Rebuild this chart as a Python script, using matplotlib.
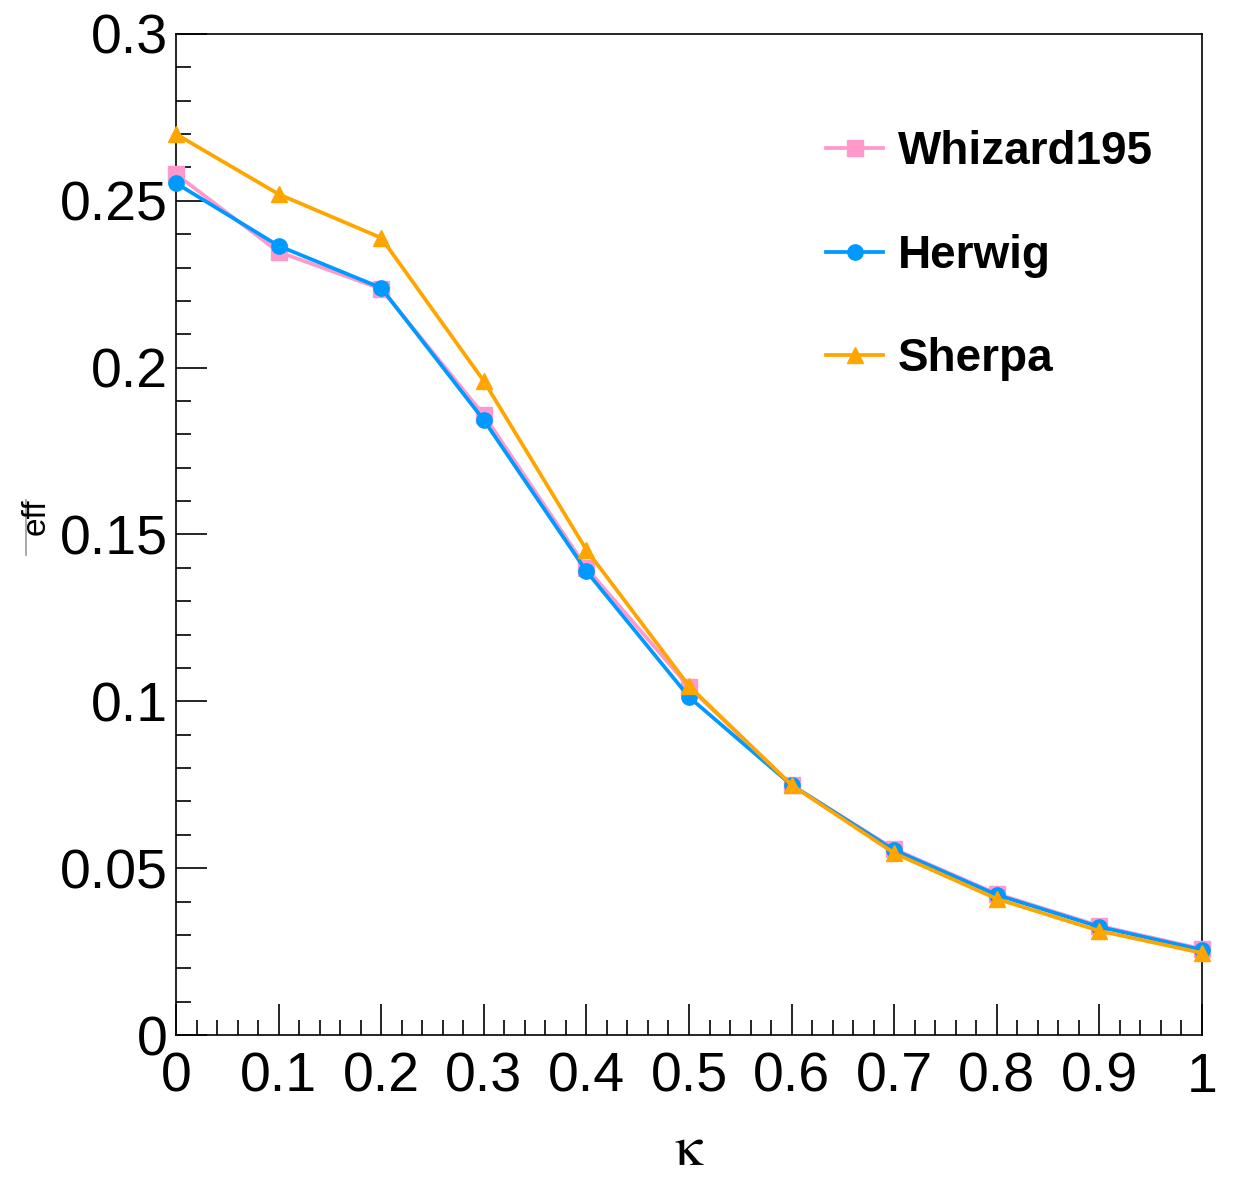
import matplotlib
matplotlib.use("Agg")
import matplotlib.pyplot as plt
from matplotlib.ticker import MultipleLocator, FuncFormatter
from matplotlib.lines import Line2D

kappa = [0.0, 0.1, 0.2, 0.3, 0.4, 0.5, 0.6, 0.7, 0.8, 0.9, 1.0]
whizard = [0.258, 0.2347, 0.2236, 0.1858, 0.140, 0.1043, 0.0749, 0.0557, 0.0423, 0.0327, 0.0258]
herwig = [0.2553, 0.2365, 0.2239, 0.1843, 0.139, 0.1013, 0.0749, 0.0554, 0.0420, 0.0324, 0.0255]
sherpa = [0.270, 0.252, 0.2389, 0.196, 0.1454, 0.1046, 0.0749, 0.0545, 0.0408, 0.0312, 0.0246]
labels = ["Whizard195", "Herwig", "Sherpa"]

plt.rcParams['font.family'] = ['Liberation Sans', 'DejaVu Sans']
plt.rcParams['mathtext.fontset'] = 'stix'

W, H = 1237, 1177
fig = plt.figure(figsize=(W/100, H/100), dpi=100)
ax = fig.add_axes([176/W, 1-1035/H, (1202-176)/W, (1035-34)/H])

ax.plot(kappa, whizard, color='#FF99CC', lw=2.7, marker='s', ms=11, label=labels[0], clip_on=False, zorder=3)
ax.plot(kappa, herwig, color='#0099FF', lw=2.7, marker='o', ms=11, label=labels[1], clip_on=False, zorder=4)
ax.plot(kappa, sherpa, color='#FFA500', lw=2.7, marker='^', ms=11, label=labels[2], clip_on=False, zorder=5)

ax.set_xlim(0, 1)
ax.set_ylim(0, 0.3)
ax.xaxis.set_major_locator(MultipleLocator(0.1))
ax.xaxis.set_minor_locator(MultipleLocator(0.02))
ax.yaxis.set_major_locator(MultipleLocator(0.05))
ax.yaxis.set_minor_locator(MultipleLocator(0.01))

def fmt(v, pos):
    s = f"{v:.2f}".rstrip('0').rstrip('.')
    return s
ax.xaxis.set_major_formatter(FuncFormatter(fmt))
ax.yaxis.set_major_formatter(FuncFormatter(fmt))

ax.tick_params(which='both', direction='in', top=False, right=False, width=1.2, colors='black')
ax.tick_params(which='major', length=22)
ax.tick_params(which='minor', length=11)
ax.tick_params(axis='x', which='major', labelsize=40, pad=12)
ax.tick_params(axis='y', which='major', labelsize=40, pad=6)
for lab in ax.get_xticklabels() + ax.get_yticklabels():
    lab.set_fontfamily('Liberation Sans')
for sp in ax.spines.values():
    sp.set_linewidth(1.2)

ax.set_xlabel(r"$\mathrm{\kappa}$", fontsize=41, va='center')
ax.xaxis.set_label_coords(0.5, (1035-1150)/1001)

fig.text(36/W, 1-517/H, "eff", rotation=90, fontsize=24, ha='center', va='center', family='Liberation Sans')
fig.add_artist(Line2D([26/W, 26/W], [1-500/H, 1-555/H], color='#999999', lw=1.2))

leg = ax.legend(loc='upper left', bbox_to_anchor=(826/W, 1-130/H), bbox_transform=fig.transFigure,
                frameon=False, prop={'family': 'Liberation Sans', 'weight': 'bold', 'size': 33},
                handlelength=1.25, handletextpad=0.32, labelspacing=1.3, borderpad=0, borderaxespad=0)

fig.savefig("out.png", dpi=100)
